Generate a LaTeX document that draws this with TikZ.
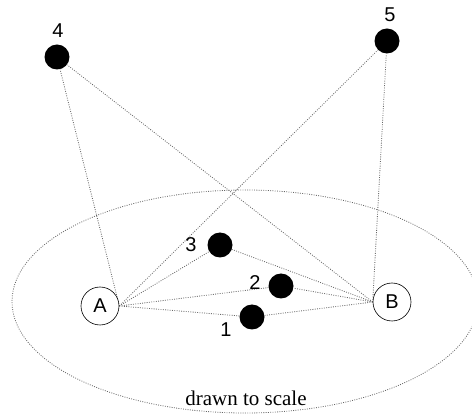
\documentclass[tikz,border=0pt]{standalone}
\usepackage{fontspec}
\setmainfont{Liberation Serif}
\setsansfont{Liberation Sans}
\usetikzlibrary{positioning, backgrounds}

\begin{document}
\begin{tikzpicture}[
  x=1pt, y=-1pt,
  every node/.style={font=\sffamily\fontsize{20}{24}\selectfont},
  dot/.style={circle, fill=black, minimum size=25pt, inner sep=0pt},
  site/.style={circle, draw=black, fill=white, minimum size=38pt, inner sep=0pt, line width=0.6pt},
  link/.style={draw=black!60, line width=0.8pt, dash pattern=on 0.9pt off 1.4pt},
  lbl/.style={inner sep=0pt},
]
\useasboundingbox (0,0) rectangle (472,414);
\clip (0,0) rectangle (472,414);

% Base stations
\node[site] (A) at (100,306) {A};
\node[site] (B) at (392,302) {B};

% Points
\node[dot] (n1) at (252,317) {};
\node[dot] (n2) at (281,286) {};
\node[dot] (n3) at (220,245) {};
\node[dot] (n4) at (57,57) {};
\node[dot] (n5) at (387,41) {};

\node[lbl] (l1) at (226,330) {1};
\node[lbl] (l2) at (255,283) {2};
\node[lbl] (l3) at (191,245) {3};
\node[lbl] (l4) at (58,31) {4};
\node[lbl] (l5) at (390,15) {5};

% Links and range
\begin{scope}[on background layer]
  \draw[link] (245,301.5) ellipse [x radius=233pt, y radius=111.5pt];
  \foreach \p in {n1,n2,n3,n4,n5} {
    \draw[link] (A.east) -- (\p);
    \draw[link] (B.west) -- (\p);
  }
\end{scope}

\node[fill=white, inner sep=2pt, font=\rmfamily\fontsize{21}{25}\selectfont] (cap) at (246,398) {drawn to scale};

\end{tikzpicture}
\end{document}
